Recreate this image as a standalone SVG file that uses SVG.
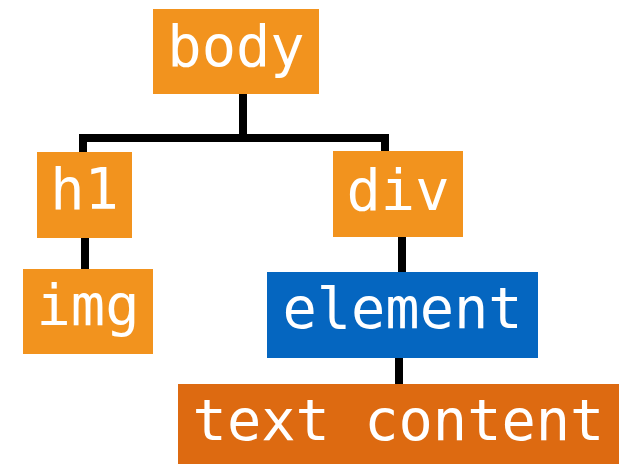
<svg xmlns="http://www.w3.org/2000/svg" width="619" height="465" viewBox="0 0 619 465">
<style>
.lbl{font-family:"DejaVu Sans Mono","Liberation Mono",monospace;font-size:57px;fill:#fff;text-anchor:middle}
.or{fill:#F2931E}
.bl{fill:#0566C0}
.dk{fill:#DD6A11}
.c{stroke:#000;stroke-width:8;fill:none}
</style>
<rect width="619" height="465" fill="#fff"/>
<g id="connectors">
<path class="c" d="M243 94 V138"/>
<path class="c" d="M83 152 V138 H385 V151"/>
<path class="c" d="M85 238 V269"/>
<path class="c" d="M402 237 V272"/>
<path class="c" d="M399 358 V384"/>
</g>
<g id="body"><rect class="or" x="153" y="9" width="166" height="85"/><text class="lbl" x="236" y="66">body</text></g>
<g id="h1"><rect class="or" x="37" y="152" width="95" height="86"/><text class="lbl" x="84.5" y="209">h1</text></g>
<g id="img"><rect class="or" x="23" y="269" width="130" height="85"/><text class="lbl" x="88" y="325">img</text></g>
<g id="div"><rect class="or" x="333" y="151" width="130" height="86"/><text class="lbl" x="398" y="210">div</text></g>
<g id="element"><rect class="bl" x="267" y="272" width="271" height="86"/><text class="lbl" x="402.5" y="328">element</text></g>
<g id="text-content"><rect class="dk" x="178" y="384" width="441" height="80"/><text class="lbl" x="398.5" y="440">text content</text></g>
</svg>
